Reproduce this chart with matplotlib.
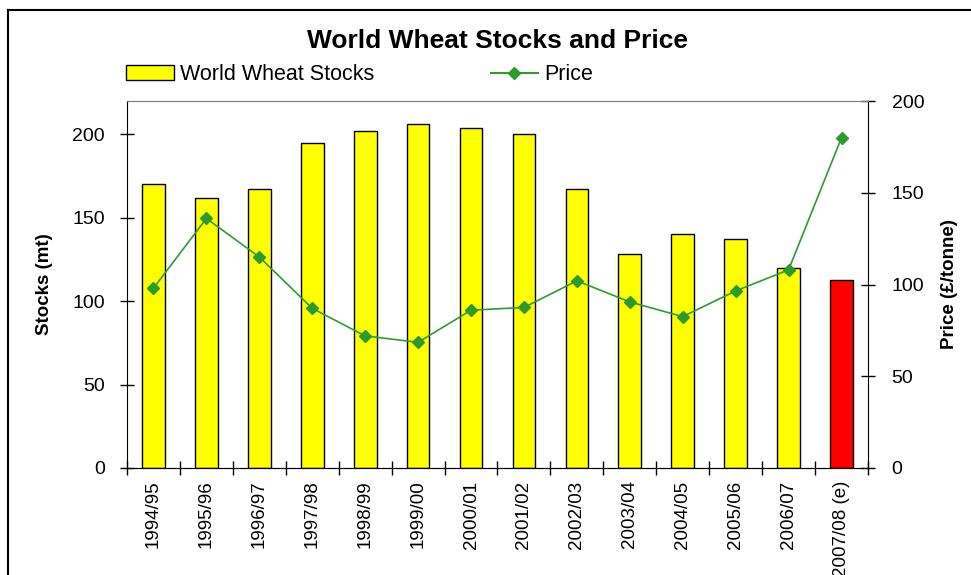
import matplotlib.pyplot as plt
from matplotlib.lines import Line2D
import numpy as np

plt.rcParams['font.family'] = ['Liberation Sans', 'DejaVu Sans']

seasons = ['1994/95', '1995/96', '1996/97', '1997/98', '1998/99', '1999/00',
           '2000/01', '2001/02', '2002/03', '2003/04', '2004/05', '2005/06',
           '2006/07', '2007/08 (e)']
stocks = [170, 162, 167, 195, 202, 206, 204, 200, 167, 128, 140, 137, 120, 113]
price = [98, 136, 115, 87, 72, 68.5, 86, 87.5, 102, 90.5, 82.5, 96.5, 108, 180]
bar_colors = ['#FFFF00'] * 13 + ['#FF0000']

fig = plt.figure(figsize=(9.71, 5.75), dpi=100)
ax = fig.add_axes([0.1308, 0.1861, 0.7631, 0.6382])
x = np.arange(len(seasons))

ax.bar(x, stocks, width=0.43, color=bar_colors, edgecolor='black', linewidth=1, zorder=2)
ax.set_xlim(-0.5, len(seasons) - 0.5)
ax.set_ylim(0, 220)
ax.set_yticks([0, 50, 100, 150, 200])
ax.set_xticks(x)
ax.set_xticklabels(seasons, rotation=90, fontsize=13.5)
ax.set_xticks(np.arange(-0.5, len(seasons)), minor=True)
ax.tick_params(axis='x', which='major', length=0, pad=9)
ax.tick_params(axis='x', which='minor', direction='inout', length=10, width=1)
ax.tick_params(axis='y', direction='inout', length=10, width=1, labelsize=14, pad=11)
ax.set_ylabel('Stocks (mt)', fontsize=13.5, fontweight='bold', labelpad=14)
ax.spines['top'].set_color('#808080')
ax.spines['right'].set_visible(False)

ax2 = ax.twinx()
ax2.plot(x, price, color='#339933', linewidth=1.2, marker='D', markersize=6.5,
         markerfacecolor='#2E9A2E', markeredgecolor='#2E9A2E', zorder=3)
ax2.set_ylim(0, 200)
ax2.set_yticks([0, 50, 100, 150, 200])
ax2.tick_params(axis='y', direction='inout', length=10, width=1, labelsize=14, pad=12)
ax2.set_ylabel('Price (£/tonne)', fontsize=13.5, fontweight='bold', rotation=90, labelpad=12)
ax2.spines['top'].set_color('#808080')
ax2.spines['left'].set_visible(False)

fig.text(0.512, 0.928, 'World Wheat Stocks and Price', ha='center', va='center',
         fontsize=19, fontweight='bold')

handles = [plt.Rectangle((0, 0), 1, 1, facecolor='#FFFF00', edgecolor='black'),
           Line2D([0], [0], color='#339933', marker='D', markersize=6.5,
                  markerfacecolor='#2E9A2E', markeredgecolor='#2E9A2E')]
fig.legend(handles, ['World Wheat Stocks', 'Price'], loc='center left',
           bbox_to_anchor=(0.11, 0.87), ncol=2, frameon=False, fontsize=15.5,
           handlelength=2.2, handletextpad=0.3, columnspacing=5.4)

fig.add_artist(Line2D([8 / 971, 8 / 971], [0, 1 - 10 / 575], transform=fig.transFigure,
                      color='black', linewidth=1.5))
fig.add_artist(Line2D([8 / 971, 1], [1 - 10 / 575, 1 - 10 / 575], transform=fig.transFigure,
                      color='black', linewidth=1.5))

fig.savefig('out.png', dpi=100)
